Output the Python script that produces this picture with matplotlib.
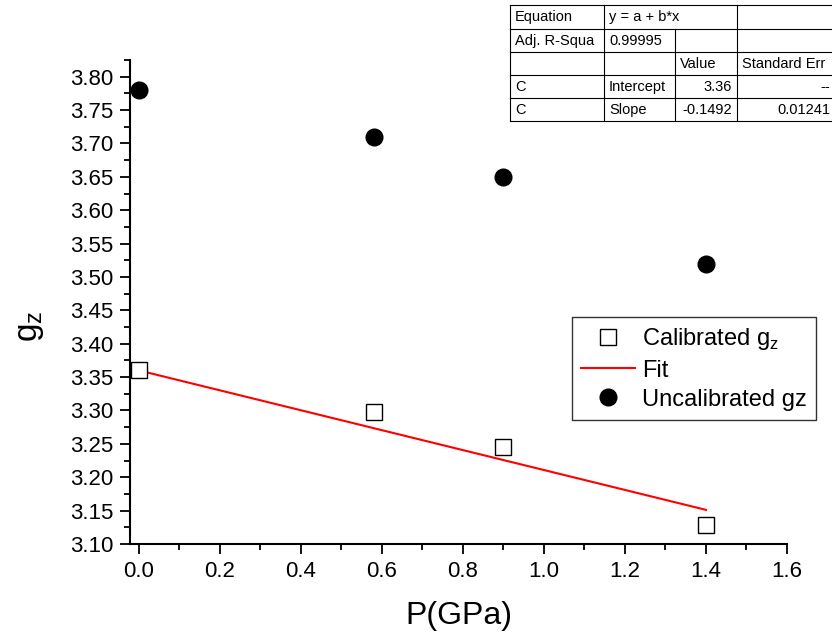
import matplotlib
matplotlib.use("Agg")
import matplotlib.pyplot as plt
import numpy as np
from matplotlib.ticker import MultipleLocator, FormatStrFormatter

plt.rcParams['font.family'] = ['Liberation Sans', 'DejaVu Sans']
plt.rcParams['mathtext.fontset'] = 'custom'
plt.rcParams['mathtext.rm'] = 'Liberation Sans'

# Data
pressure = [0.0, 0.58, 0.90, 1.40]
g_uncal = [3.78, 3.71, 3.65, 3.52]
g_cal = [3.36, 3.298, 3.245, 3.128]
fit_intercept = 3.36
fit_slope = -0.1492
fit_x = [0.0, 1.40]

table_rows = [
    ["Equation", "y = a + b*x", "", ""],
    ["Adj. R-Squa", "0.99995", "", ""],
    ["", "", "Value", "Standard Err"],
    ["C", "Intercept", "3.36", "--"],
    ["C", "Slope", "-0.1492", "0.01241"],
]

fig = plt.figure(figsize=(8.32, 6.39), dpi=100)
W, H = 832, 639
ax = fig.add_axes([130/W, 1-544/H, (787-130)/W, (544-60)/H])

ax.plot(pressure, g_cal, linestyle='none', marker='s', markersize=11,
        markerfacecolor='white', markeredgecolor='black', markeredgewidth=1.0,
        label='Calibrated g$_\\mathregular{z}$', zorder=3)
fx = np.array(fit_x)
ax.plot(fx, fit_intercept + fit_slope*fx, color='red', lw=1.5, label='Fit', zorder=2)
ax.plot(pressure, g_uncal, linestyle='none', marker='o', markersize=12,
        color='black', label='Uncalibrated gz', zorder=3)

ax.set_xlim(-0.022, 1.6)
ax.set_ylim(3.10, 3.825)
ax.spines['top'].set_visible(False)
ax.spines['right'].set_visible(False)
ax.spines['left'].set_linewidth(1.5)
ax.spines['bottom'].set_linewidth(1.5)
ax.xaxis.set_major_locator(MultipleLocator(0.2))
ax.xaxis.set_minor_locator(MultipleLocator(0.1))
ax.yaxis.set_major_locator(MultipleLocator(0.05))
ax.yaxis.set_minor_locator(MultipleLocator(0.025))
ax.xaxis.set_major_formatter(FormatStrFormatter('%.1f'))
ax.yaxis.set_major_formatter(FormatStrFormatter('%.2f'))
ax.tick_params(which='major', direction='out', length=7, width=1.3, labelsize=16, pad=5)
ax.tick_params(which='minor', direction='out', length=4, width=1.3)
ax.set_xlabel('P(GPa)', fontsize=23, labelpad=14)
ax.set_ylabel('g$_\\mathregular{z}$', fontsize=24)
ax.yaxis.set_label_coords(-0.128, 0.45)

leg = ax.legend(loc='upper left', bbox_to_anchor=(572/W, 1-317/H),
                bbox_transform=fig.transFigure, fontsize=17, frameon=True,
                fancybox=False, edgecolor='black', handlelength=2.25,
                handletextpad=0.3, borderpad=0.4, labelspacing=0.3,
                borderaxespad=0)
leg.get_frame().set_linewidth(1.0)

# Table
tax = fig.add_axes([0, 0, 1, 1])
tax.set_xlim(0, W)
tax.set_ylim(H, 0)
tax.axis('off')
col_x = [510, 604, 675, 737, 850]
row_y = [5, 29, 52, 75, 98, 121]
tax.add_patch(plt.Rectangle((col_x[0], row_y[0]), col_x[-1]-col_x[0], row_y[-1]-row_y[0],
                            facecolor='white', edgecolor='none', zorder=0))
for y in row_y:
    tax.plot([col_x[0], col_x[-1]], [y, y], color='black', lw=0.8)
tax.plot([col_x[0], col_x[0]], [row_y[0], row_y[-1]], color='black', lw=0.8)
tax.plot([col_x[1], col_x[1]], [row_y[0], row_y[-1]], color='black', lw=0.8)
tax.plot([col_x[2], col_x[2]], [row_y[1], row_y[-1]], color='black', lw=0.8)
tax.plot([col_x[3], col_x[3]], [row_y[0], row_y[-1]], color='black', lw=0.8)
for r, row in enumerate(table_rows):
    yc = (row_y[r] + row_y[r+1]) / 2 + 0.5
    for c, txt in enumerate(row):
        if not txt:
            continue
        right = (c >= 2 and r >= 3)
        if right:
            tax.text(col_x[c+1]-5 if c < 3 else 830, yc, txt, ha='right', va='center', fontsize=10.5)
        else:
            tax.text(col_x[c]+5, yc, txt, ha='left', va='center', fontsize=10.5)

fig.savefig('out.png', dpi=100)
